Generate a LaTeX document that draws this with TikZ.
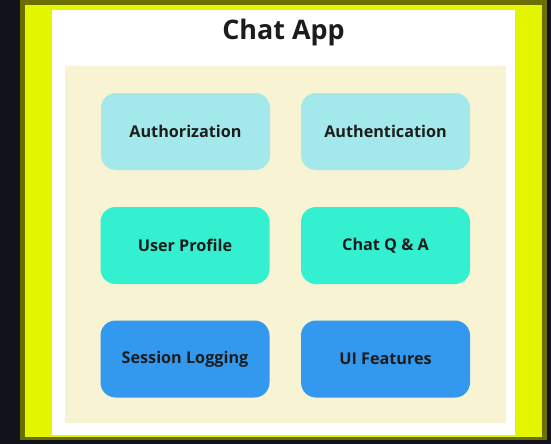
\documentclass[tikz,border=0pt]{standalone}
\usepackage{fontspec}
\setmainfont{Open Sans}
\definecolor{bgdark}{HTML}{11131C}
\definecolor{olive}{HTML}{6B6E00}
\definecolor{lime}{HTML}{E4F500}
\definecolor{cream}{HTML}{F8F3D2}
\definecolor{authc}{HTML}{A3E8EA}
\definecolor{midc}{HTML}{33F0D0}
\definecolor{lowc}{HTML}{3399EE}
\definecolor{inkc}{HTML}{1C1C1C}
\tikzset{
  module/.style={rounded corners=15pt, minimum width=169pt, minimum height=77pt,
    inner sep=0pt, text=inkc, font=\fontsize{16.2}{19}\selectfont\bfseries, anchor=center}
}
\begin{document}
\begin{tikzpicture}[x=1pt,y=-1pt]
\useasboundingbox (0,0) rectangle (551,444);
% backdrop and framed panel
\fill[bgdark] (0,0) rectangle (551,444);
\fill[olive] (20,-2) rectangle (547,440);
\fill[lime] (25,5) rectangle (542,437);
\fill[white] (52,10) rectangle (515,435);
\fill[cream] (65,66) rectangle (506,423);
% title
\node[text=inkc, font=\fontsize{26.9}{31}\selectfont\bfseries] (title) at (283.5,33) {Chat App};
% modules
\node[module, fill=authc] (authz) at (185.5,131.5) {Authorization};
\node[module, fill=authc] (authn) at (385.5,131.5) {Authentication};
\node[module, fill=midc] (profile) at (185,245.5) {User Profile};
\node[module, fill=midc] (chatqa) at (385.5,245.5) {Chat Q \& A};
\node[module, fill=lowc] (logging) at (185,359) {Session Logging};
\node[module, fill=lowc] (uifeat) at (385.5,359) {UI Features};
\end{tikzpicture}
\end{document}
